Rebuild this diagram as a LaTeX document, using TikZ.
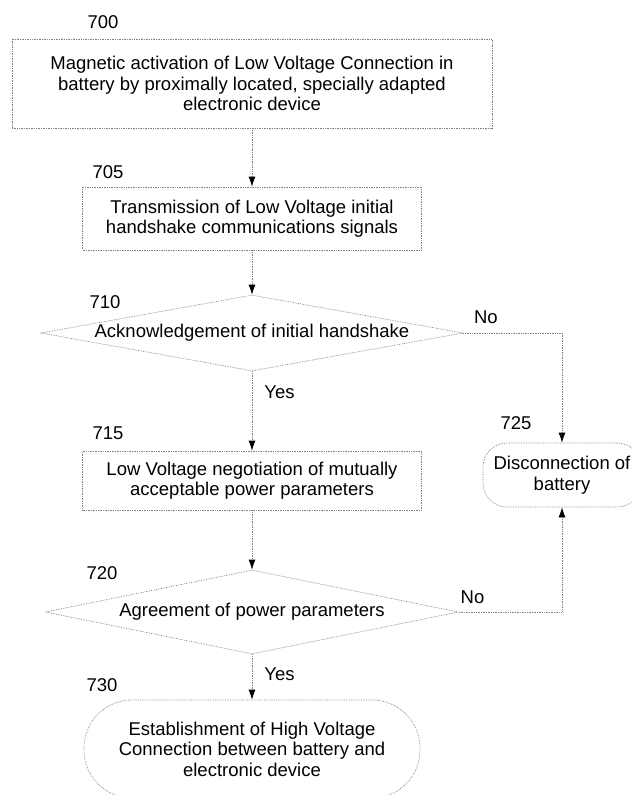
\documentclass[tikz,border=0pt]{standalone}
\usepackage{fontspec}
\setmainfont{Liberation Sans}
\usetikzlibrary{shapes.geometric,arrows.meta}
\tikzset{
  stepbox/.style={draw=gray, densely dotted, rectangle, align=center, inner sep=0pt},
  decide/.style={draw=gray, densely dotted, diamond, aspect=5.5, inner sep=0pt, align=center},
  endbox/.style={draw=gray, densely dotted, rectangle, align=center, inner sep=0pt},
  flow/.style={draw=gray, densely dotted, -{Latex[black,length=10pt,width=7pt]}},
  refnum/.style={inner sep=0pt}
}
\begin{document}
\begin{tikzpicture}
[x=1pt,y=-1pt,font=\fontsize{18.5}{20.5}\selectfont,line width=0.7pt]
 \useasboundingbox (0,0) rectangle (632,795);
 \clip (0,0) rectangle (632,795);

 \node (S700) [stepbox, minimum width=480pt, minimum height=89pt] at (252,83.5)
   {Magnetic activation of Low Voltage Connection in\\battery by proximally located, specially adapted\\electronic device};
 \node (S705) [stepbox, minimum width=339pt, minimum height=63pt] at (252,218.5)
   {Transmission of Low Voltage initial\\handshake communications signals};
 \node (D710) [decide, minimum width=422pt, minimum height=76pt] at (252,333)
   {Acknowledgement of initial handshake};
 \node (S715) [stepbox, minimum width=339pt, minimum height=59pt] at (252,480.5)
   {Low Voltage negotiation of mutually\\acceptable power parameters};
 \node (D720) [decide, minimum width=413pt, minimum height=84pt] at (252,612)
   {Agreement of power parameters};
 \node (E725) [endbox, rounded corners=24pt, minimum width=158pt, minimum height=64pt] at (562,475)
   {Disconnection of\\battery};
 \node (E730) [endbox, rounded corners=48pt, minimum width=336pt, minimum height=98pt] at (252,749)
   {Establishment of High Voltage\\Connection between battery and\\electronic device};

 \node (L700) [refnum] at (103,22) {700};
 \node (L705) [refnum] at (108,172) {705};
 \node (L710) [refnum] at (105,302) {710};
 \node (L715) [refnum] at (108,433) {715};
 \node (L720) [refnum] at (102,573) {720};
 \node (L725) [refnum] at (516,423) {725};
 \node (L730) [refnum] at (102,685) {730};

 \draw (S700) edge[flow] (S705);
 \draw (S705) edge[flow] (D710);
 \draw (D710) edge[flow] node (Y710) [right, pos=0.26, xshift=8.7pt] {Yes} (S715);
 \draw (S715) edge[flow] (D720);
 \draw (D720) edge[flow] node (Y720) [right, pos=0.44, xshift=8.7pt] {Yes} (E730);
 \draw[flow] (D710.east) -| node (N710) [above, pos=0.114, yshift=6pt] {No} (E725.north);
 \draw[flow] (D720.east) -| node (N720) [above, pos=0.066, yshift=5pt] {No} (E725.south);
\end{tikzpicture}
\end{document}
